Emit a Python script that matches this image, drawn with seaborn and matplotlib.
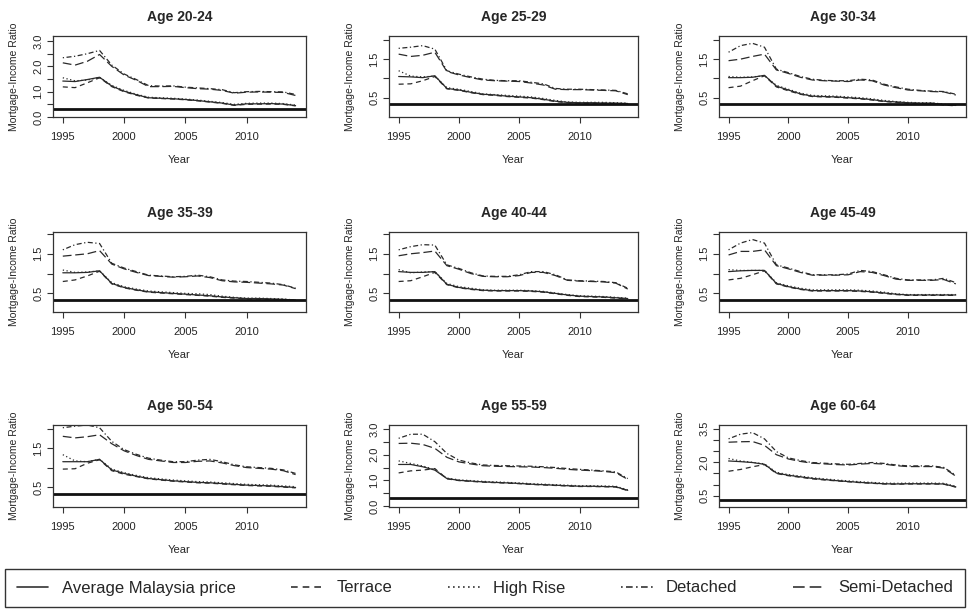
import matplotlib
matplotlib.use("Agg")
import matplotlib.pyplot as plt
from matplotlib.lines import Line2D
import seaborn as sns
import pandas as pd

years = list(range(1995, 2015))
age_groups = ["Age 20-24", "Age 25-29", "Age 30-34",
              "Age 35-39", "Age 40-44", "Age 45-49",
              "Age 50-54", "Age 55-59", "Age 60-64"]
series_names = ["Average Malaysia price", "Terrace", "High Rise", "Detached", "Semi-Detached"]

# one row per age group, one value per year 1995..2014
average = [
    [1.42, 1.40, 1.48, 1.57, 1.22, 1.02, 0.88, 0.76, 0.74, 0.72, 0.69, 0.65, 0.60, 0.55, 0.47, 0.52, 0.52, 0.53, 0.51, 0.45],
    [1.05, 1.04, 1.02, 1.07, 0.74, 0.70, 0.64, 0.59, 0.57, 0.54, 0.52, 0.50, 0.46, 0.41, 0.38, 0.37, 0.37, 0.36, 0.36, 0.35],
    [1.02, 1.02, 1.03, 1.08, 0.80, 0.70, 0.60, 0.54, 0.53, 0.52, 0.50, 0.48, 0.45, 0.41, 0.39, 0.37, 0.36, 0.36, 0.32, 0.30],
    [1.02, 1.02, 1.03, 1.07, 0.75, 0.65, 0.59, 0.54, 0.52, 0.50, 0.48, 0.46, 0.44, 0.41, 0.39, 0.37, 0.37, 0.36, 0.35, 0.33],
    [1.05, 1.03, 1.03, 1.05, 0.73, 0.65, 0.61, 0.58, 0.57, 0.57, 0.57, 0.56, 0.54, 0.50, 0.46, 0.43, 0.42, 0.41, 0.39, 0.37],
    [1.05, 1.07, 1.08, 1.08, 0.75, 0.67, 0.61, 0.57, 0.57, 0.57, 0.57, 0.56, 0.54, 0.51, 0.48, 0.46, 0.46, 0.46, 0.46, 0.46],
    [1.16, 1.16, 1.16, 1.22, 0.95, 0.86, 0.79, 0.73, 0.70, 0.67, 0.65, 0.63, 0.62, 0.60, 0.58, 0.56, 0.55, 0.54, 0.52, 0.50],
    [1.62, 1.62, 1.53, 1.40, 1.07, 1.00, 0.97, 0.94, 0.92, 0.90, 0.88, 0.85, 0.83, 0.81, 0.79, 0.77, 0.77, 0.76, 0.75, 0.61],
    [2.06, 2.03, 1.99, 1.91, 1.52, 1.42, 1.35, 1.28, 1.23, 1.18, 1.14, 1.10, 1.07, 1.04, 1.03, 1.04, 1.04, 1.04, 1.03, 0.90],
]
terrace = [
    [1.19, 1.16, 1.35, 1.55, 1.20, 1.00, 0.86, 0.75, 0.73, 0.71, 0.68, 0.64, 0.59, 0.54, 0.46, 0.50, 0.51, 0.51, 0.50, 0.44],
    [0.85, 0.86, 0.94, 1.05, 0.73, 0.69, 0.63, 0.58, 0.56, 0.53, 0.51, 0.49, 0.45, 0.40, 0.37, 0.36, 0.36, 0.36, 0.35, 0.34],
    [0.76, 0.80, 0.94, 1.07, 0.78, 0.68, 0.59, 0.53, 0.52, 0.51, 0.49, 0.47, 0.44, 0.40, 0.38, 0.36, 0.35, 0.35, 0.31, 0.29],
    [0.80, 0.84, 0.94, 1.06, 0.74, 0.64, 0.58, 0.53, 0.51, 0.49, 0.47, 0.45, 0.43, 0.40, 0.38, 0.36, 0.36, 0.35, 0.34, 0.32],
    [0.80, 0.82, 0.92, 1.03, 0.72, 0.64, 0.60, 0.57, 0.56, 0.56, 0.56, 0.55, 0.53, 0.49, 0.45, 0.42, 0.41, 0.40, 0.38, 0.36],
    [0.84, 0.88, 0.97, 1.07, 0.74, 0.66, 0.60, 0.56, 0.56, 0.56, 0.56, 0.55, 0.53, 0.50, 0.47, 0.45, 0.45, 0.45, 0.45, 0.45],
    [0.97, 0.98, 1.12, 1.21, 0.93, 0.84, 0.78, 0.72, 0.69, 0.66, 0.64, 0.62, 0.61, 0.59, 0.57, 0.55, 0.54, 0.53, 0.51, 0.49],
    [1.29, 1.37, 1.40, 1.46, 1.06, 0.99, 0.96, 0.93, 0.91, 0.89, 0.87, 0.84, 0.82, 0.80, 0.78, 0.76, 0.76, 0.75, 0.74, 0.60],
    [1.60, 1.68, 1.80, 1.90, 1.50, 1.40, 1.33, 1.26, 1.21, 1.17, 1.13, 1.09, 1.06, 1.03, 1.02, 1.03, 1.03, 1.03, 1.02, 0.89],
]
high_rise = [
    [1.55, 1.43, 1.46, 1.56, 1.25, 1.05, 0.90, 0.78, 0.76, 0.74, 0.71, 0.67, 0.62, 0.57, 0.50, 0.54, 0.55, 0.55, 0.53, 0.47],
    [1.20, 1.06, 1.04, 1.06, 0.76, 0.72, 0.66, 0.60, 0.58, 0.56, 0.54, 0.52, 0.48, 0.43, 0.39, 0.38, 0.38, 0.38, 0.37, 0.36],
    [1.05, 1.03, 1.04, 1.07, 0.82, 0.72, 0.62, 0.56, 0.55, 0.54, 0.52, 0.50, 0.47, 0.43, 0.40, 0.38, 0.37, 0.37, 0.33, 0.31],
    [1.09, 1.03, 1.04, 1.07, 0.77, 0.67, 0.61, 0.56, 0.54, 0.52, 0.50, 0.49, 0.47, 0.43, 0.40, 0.38, 0.38, 0.37, 0.36, 0.33],
    [1.10, 1.02, 1.04, 1.05, 0.75, 0.67, 0.63, 0.59, 0.58, 0.58, 0.58, 0.57, 0.55, 0.51, 0.47, 0.44, 0.43, 0.42, 0.40, 0.38],
    [1.10, 1.08, 1.08, 1.08, 0.77, 0.69, 0.63, 0.59, 0.59, 0.59, 0.59, 0.58, 0.56, 0.53, 0.49, 0.47, 0.47, 0.47, 0.47, 0.47],
    [1.34, 1.18, 1.16, 1.22, 0.97, 0.88, 0.81, 0.75, 0.72, 0.69, 0.67, 0.65, 0.64, 0.62, 0.60, 0.58, 0.57, 0.56, 0.54, 0.52],
    [1.76, 1.66, 1.56, 1.42, 1.09, 1.02, 0.99, 0.96, 0.94, 0.92, 0.90, 0.87, 0.85, 0.83, 0.81, 0.79, 0.79, 0.78, 0.77, 0.63],
    [2.17, 2.06, 2.00, 1.93, 1.55, 1.45, 1.38, 1.31, 1.26, 1.21, 1.17, 1.13, 1.10, 1.07, 1.06, 1.07, 1.07, 1.07, 1.06, 0.93],
]
detached = [
    [2.34, 2.40, 2.50, 2.63, 2.05, 1.70, 1.48, 1.24, 1.22, 1.23, 1.18, 1.15, 1.12, 1.08, 0.96, 1.00, 1.01, 1.00, 0.99, 0.89],
    [1.78, 1.81, 1.85, 1.76, 1.20, 1.11, 1.04, 0.98, 0.95, 0.94, 0.94, 0.90, 0.86, 0.74, 0.72, 0.72, 0.71, 0.70, 0.69, 0.60],
    [1.68, 1.85, 1.91, 1.81, 1.24, 1.15, 1.05, 0.98, 0.95, 0.94, 0.94, 0.98, 0.96, 0.85, 0.78, 0.72, 0.69, 0.67, 0.66, 0.59],
    [1.60, 1.73, 1.79, 1.76, 1.26, 1.14, 1.05, 0.96, 0.94, 0.92, 0.93, 0.96, 0.92, 0.84, 0.81, 0.80, 0.78, 0.76, 0.72, 0.63],
    [1.60, 1.68, 1.73, 1.72, 1.22, 1.13, 1.02, 0.94, 0.93, 0.93, 0.97, 1.05, 1.05, 0.97, 0.84, 0.82, 0.81, 0.80, 0.77, 0.63],
    [1.60, 1.77, 1.86, 1.77, 1.22, 1.14, 1.05, 0.97, 0.97, 0.97, 0.99, 1.08, 1.05, 0.97, 0.88, 0.84, 0.84, 0.84, 0.88, 0.77],
    [2.03, 2.07, 2.10, 2.03, 1.68, 1.47, 1.35, 1.25, 1.20, 1.16, 1.16, 1.20, 1.22, 1.16, 1.08, 1.03, 1.01, 0.99, 0.95, 0.86],
    [2.64, 2.80, 2.80, 2.51, 2.05, 1.79, 1.68, 1.60, 1.58, 1.57, 1.56, 1.55, 1.53, 1.50, 1.46, 1.43, 1.40, 1.37, 1.33, 1.07],
    [3.05, 3.26, 3.33, 3.05, 2.48, 2.20, 2.08, 1.99, 1.96, 1.93, 1.91, 1.95, 1.99, 1.95, 1.88, 1.84, 1.84, 1.84, 1.77, 1.42],
]
semi_detached = [
    [2.14, 2.05, 2.20, 2.47, 2.00, 1.66, 1.45, 1.20, 1.20, 1.21, 1.16, 1.12, 1.10, 1.05, 0.94, 0.98, 0.99, 0.98, 0.97, 0.85],
    [1.63, 1.57, 1.60, 1.68, 1.18, 1.09, 1.02, 0.96, 0.94, 0.93, 0.92, 0.88, 0.83, 0.72, 0.71, 0.71, 0.70, 0.69, 0.68, 0.58],
    [1.46, 1.50, 1.57, 1.63, 1.22, 1.13, 1.03, 0.96, 0.94, 0.93, 0.92, 0.96, 0.94, 0.83, 0.76, 0.70, 0.68, 0.66, 0.65, 0.57],
    [1.44, 1.47, 1.50, 1.58, 1.24, 1.12, 1.03, 0.95, 0.93, 0.91, 0.92, 0.94, 0.90, 0.82, 0.79, 0.78, 0.76, 0.74, 0.71, 0.62],
    [1.45, 1.50, 1.53, 1.57, 1.20, 1.11, 1.00, 0.93, 0.92, 0.92, 0.95, 1.03, 1.03, 0.95, 0.83, 0.81, 0.80, 0.79, 0.76, 0.61],
    [1.47, 1.56, 1.56, 1.60, 1.20, 1.12, 1.03, 0.96, 0.96, 0.96, 0.97, 1.05, 1.03, 0.95, 0.86, 0.83, 0.83, 0.83, 0.85, 0.74],
    [1.81, 1.77, 1.80, 1.85, 1.62, 1.44, 1.32, 1.22, 1.18, 1.14, 1.14, 1.17, 1.18, 1.13, 1.06, 1.01, 0.99, 0.97, 0.93, 0.83],
    [2.44, 2.45, 2.40, 2.25, 1.90, 1.72, 1.64, 1.57, 1.55, 1.54, 1.53, 1.52, 1.50, 1.47, 1.43, 1.40, 1.38, 1.35, 1.30, 1.04],
    [2.90, 2.92, 2.93, 2.76, 2.34, 2.15, 2.04, 1.96, 1.93, 1.90, 1.88, 1.92, 1.95, 1.92, 1.85, 1.81, 1.81, 1.81, 1.74, 1.38],
]
threshold = 0.33

# axis setup per panel (R style: ticks every 0.5, only some labelled)
ylims = [(0.0, 3.2), (0.0, 2.1), (0.0, 2.1),
         (0.03, 2.05), (0.03, 2.05), (0.03, 2.05),
         (0.0, 2.1), (-0.04, 3.16), (0.0, 3.67)]
yticks = [[0, 0.5, 1, 1.5, 2, 2.5, 3], [0.5, 1, 1.5, 2], [0.5, 1, 1.5, 2],
          [0.5, 1, 1.5, 2], [0.5, 1, 1.5, 2], [0.5, 1, 1.5, 2],
          [0.5, 1, 1.5, 2], [0, 0.5, 1, 1.5, 2, 2.5, 3], [0.5, 1, 1.5, 2, 2.5, 3, 3.5]]
ylabelled = [[0, 1, 2, 3], [0.5, 1.5], [0.5, 1.5],
             [0.5, 1.5], [0.5, 1.5], [0.5, 1.5],
             [0.5, 1.5], [0, 1, 2, 3], [0.5, 2, 3.5]]

rows = []
for g, age in enumerate(age_groups):
    for name, table in zip(series_names, [average, terrace, high_rise, detached, semi_detached]):
        for yr, v in zip(years, table[g]):
            rows.append((age, name, yr, v))
df = pd.DataFrame(rows, columns=["Age", "Type", "Year", "Ratio"])

dashes = {"Average Malaysia price": "", "Terrace": (4, 3), "High Rise": (1, 2),
          "Detached": (1, 2, 4, 2), "Semi-Detached": (7, 3)}

sns.set_style("ticks")
plt.rcParams['font.family'] = ['Liberation Sans', 'DejaVu Sans']

W, H = 970, 610
fig = plt.figure(figsize=(9.7, 6.1), dpi=100)

col_px = [(53, 306), (389, 638), (719, 966)]
row_px = [(36, 117), (232, 312), (425, 507)]

for g, age in enumerate(age_groups):
    r, c = divmod(g, 3)
    x0, x1 = col_px[c]
    y0, y1 = row_px[r]
    ax = fig.add_axes([x0 / W, 1 - y1 / H, (x1 - x0) / W, (y1 - y0) / H])
    sub = df[df["Age"] == age]
    sns.lineplot(data=sub, x="Year", y="Ratio", style="Type", style_order=series_names,
                 dashes=dashes, color="#2a2a2a", linewidth=0.9, ax=ax, legend=False,
                 errorbar=None)
    ax.axhline(threshold, color="#111111", linewidth=2)
    ax.set_xlim(1994.2, 2014.85)
    ax.set_ylim(*ylims[g])
    ax.set_xticks([1995, 2000, 2005, 2010])
    ax.set_yticks(yticks[g])
    ax.set_yticklabels([f"{t:.1f}" if t in ylabelled[g] else "" for t in yticks[g]],
                       rotation=90, va="center")
    ax.tick_params(direction="out", length=4, width=0.8, labelsize=8, color="#333333")
    ax.tick_params(axis="x", pad=7)
    ax.tick_params(axis="y", pad=3)
    for s in ax.spines.values():
        s.set_visible(True)
        s.set_linewidth(0.9)
        s.set_color("#333333")
    ax.set_title(age, fontsize=10, fontweight="bold", pad=11)
    ax.set_xlabel("Year", fontsize=8, labelpad=9)
    ax.set_ylabel("Mortgage-Income Ratio", fontsize=7.5, labelpad=10)

handles = []
for name in series_names:
    d = dashes[name]
    if d == "":
        h = Line2D([], [], color="#333333", linewidth=1.2)
    else:
        h = Line2D([], [], color="#333333", linewidth=1.2, dashes=d)
    handles.append(h)

leg = fig.legend(handles, series_names, loc="center", ncol=5, mode="expand",
                 bbox_to_anchor=(5 / W, 1 - 604 / H, 960 / W, 32 / H),
                 borderaxespad=0, frameon=True, fancybox=False, edgecolor="black",
                 fontsize=12, handlelength=1.9, handletextpad=0.8, borderpad=0.7)
leg.get_frame().set_linewidth(1.0)

fig.savefig("out.png", dpi=100)
